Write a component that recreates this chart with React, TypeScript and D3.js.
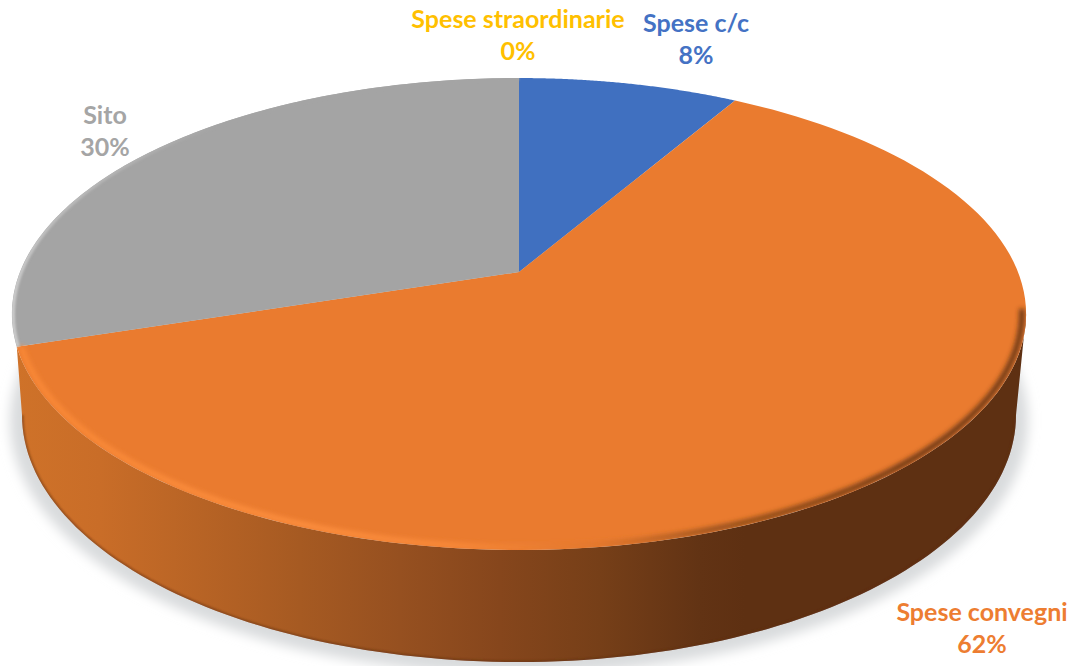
import React from "react";
import * as d3 from "d3";

const categories = ["Spese c/c", "Spese convegni", "Sito", "Spese straordinarie"];
const values = [8.33, 61.67, 30, 0];
const sliceColors = ["#4070c0", "#ea7b2f", "#a4a4a4", "#ffc000"];
const textColors = ["#4472c4", "#ed7d31", "#a5a5a5", "#ffc000"];
const labelCentres: [number, number][] = [[696, 24], [982, 613], [105, 116], [518, 20]];
const wallStops: [number, string][] = [[0, "#d07329"], [100, "#c96d28"], [300, "#a65a22"], [400, "#965020"], [500, "#86461c"], [600, "#763f18"], [700, "#623314"], [745, "#5e3012"]];
const rimStops: [number, string][] = [[20, "#fb8a37"], [300, "#ff9140"], [450, "#fb8b3a"], [600, "#e0762c"], [720, "#8a4a1a"], [900, "#5e3012"], [1030, "#5e3012"]];

const W = 1075, H = 666;
const cx = 519, cy = 272, A = 499, B = 228.5, k = 0.178;
const base = { cx: 519, cy: 415, rx: 497, ry: 247 };

const project = (theta: number, r = 1): [number, number] => {
  const u = r * Math.sin(theta), v = r * Math.cos(theta), w = 1 + k * v;
  return [cx + (A * u) / w, cy - (B * v) / w];
};
const line = d3.line();
const sample = (a0: number, a1: number, r = 1) =>
  d3.range(0, 121).map((i) => project(a0 + ((a1 - a0) * i) / 120, r));

const arcs = d3.pie<number>().sort(null).startAngle(0).endAngle(2 * Math.PI)(values);
const total = d3.sum(values);
const sliceD = arcs.map((a) => (line([[cx, cy], ...sample(a.startAngle, a.endAngle)]) as string) + "Z");
const faceD = (line(sample(0, 2 * Math.PI)) as string) + "Z";
const orange = arcs[1];
const grey = arcs[2];

const basePts = d3.range(0, 121).map((i): [number, number] => {
  const t = Math.PI - (Math.PI * i) / 120;
  return [base.cx + base.rx * Math.cos(t), base.cy + base.ry * Math.sin(t)];
});
const rightTheta = Math.acos(-k);
const wallD =
  (line([project(orange.endAngle), ...basePts, project(rightTheta), ...sample(rightTheta, orange.endAngle)]) as string) + "Z";
const baseD = line(basePts) as string;
const rimD = line(sample(rightTheta - 0.02, orange.endAngle, 0.992)) as string;
const greyRimD = line(sample(grey.startAngle, grey.endAngle, 0.998)) as string;

const stopsOf = (stops: [number, string][]) =>
  stops.map(([x, c]) => <stop key={x} offset={x / W} stopColor={c} />);

export default function App() {
  return (
    <svg width={W} height={H} viewBox={`0 0 ${W} ${H}`} style={{ position: "absolute", left: 0, top: 0, background: "#fff" }}>
      <defs>
        <linearGradient id="wall" gradientUnits="userSpaceOnUse" x1={0} x2={W} y1={0} y2={0}>{stopsOf(wallStops)}</linearGradient>
        <linearGradient id="rim" gradientUnits="userSpaceOnUse" x1={0} x2={W} y1={0} y2={0}>{stopsOf(rimStops)}</linearGradient>
        <linearGradient id="greyRim" gradientUnits="userSpaceOnUse" x1={0} x2={220} y1={0} y2={0}>
          <stop offset={0} stopColor="#cfcfcf" />
          <stop offset={0.25} stopColor="#bdbdbd" />
          <stop offset={1} stopColor="#a4a4a4" />
        </linearGradient>
        <filter id="shadowBlur" x="-10%" y="-10%" width="120%" height="120%"><feGaussianBlur stdDeviation={6} /></filter>
        <filter id="rimBlur" x="-5%" y="-5%" width="110%" height="110%"><feGaussianBlur stdDeviation={2.6} /></filter>
        <filter id="greyBlur" x="-5%" y="-5%" width="110%" height="110%"><feGaussianBlur stdDeviation={1.2} /></filter>
        <clipPath id="face"><path d={faceD} /></clipPath>
        <clipPath id="wallClip"><path d={wallD} /></clipPath>
      </defs>

      <ellipse cx={base.cx} cy={base.cy + 6} rx={base.rx + 12} ry={base.ry + 6} fill="#d9dbdd" filter="url(#shadowBlur)" />
      <path d={wallD} fill="url(#wall)" />
      <g clipPath="url(#wallClip)">
        <path d={baseD} fill="none" stroke="#5e3012" strokeWidth={3} strokeOpacity={0.55} filter="url(#greyBlur)" />
      </g>
      {sliceD.map((d, i) => <path key={categories[i]} d={d} fill={sliceColors[i]} />)}
      <g clipPath="url(#face)">
        <path d={rimD} fill="none" stroke="url(#rim)" strokeWidth={5} filter="url(#rimBlur)" />
        <path d={greyRimD} fill="none" stroke="url(#greyRim)" strokeWidth={4} filter="url(#greyBlur)" />
      </g>

      {categories.map((c, i) => (
        <text key={c} textAnchor="middle" fontFamily="Lato, sans-serif" fontWeight={700} fontSize={25} fill={textColors[i]}>
          <tspan x={labelCentres[i][0]} y={labelCentres[i][1] + 8}>{c}</tspan>
          <tspan x={labelCentres[i][0]} y={labelCentres[i][1] + 40}>{Math.round((values[i] / total) * 100)}%</tspan>
        </text>
      ))}
    </svg>
  );
}
